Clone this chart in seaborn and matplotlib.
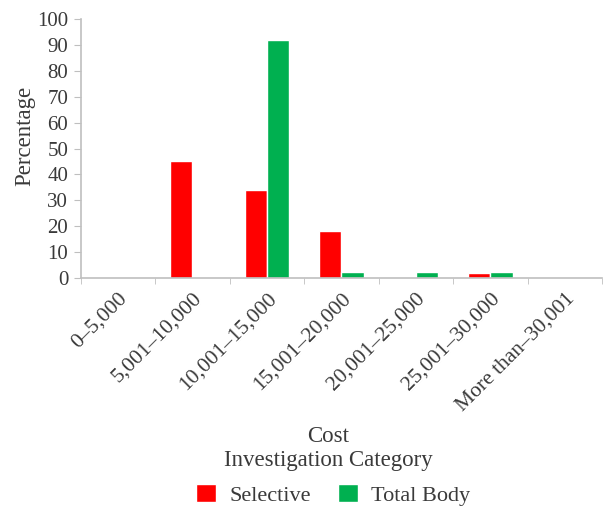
import numpy as np
import pandas as pd
import seaborn as sns
from matplotlib import pyplot as plt
from matplotlib.ticker import FixedLocator

categories = ["0–5,000", "5,001–10,000", "10,001–15,000", "15,001–20,000",
              "20,001–25,000", "25,001–30,000", "More than–30,001"]
selective = [0, 45, 34, 18, 0, 2, 0]
total_body = [0, 0, 92, 2.3, 2.3, 2.3, 0]
series_names = ["Selective", "Total Body"]
y_ticks = list(range(0, 101, 10))

df = pd.DataFrame({
    "category": categories * 2,
    "value": selective + total_body,
    "series": [series_names[0]] * len(categories) + [series_names[1]] * len(categories),
})

sns.set_style("white")
plt.rcParams["font.family"] = ["Liberation Serif", "DejaVu Serif"]
text_col = "#3a3a3a"
axis_col = "#bfbfbf"

fig = plt.figure(figsize=(6.05, 5.07), dpi=100)
ax = fig.add_axes([0.1334, 0.4517, 0.8616, 0.5108])

sns.barplot(data=df, x="category", y="value", hue="series", order=categories,
            hue_order=series_names, palette=["#ff0000", "#00b050"],
            width=0.6, saturation=1, ax=ax)

ax.set_xlim(-0.5, len(categories) - 0.5)
ax.set_ylim(0, 100)
ax.set_yticks(y_ticks)
ax.set_xticks(range(len(categories)))
ax.set_xticklabels(categories, rotation=45, ha="right", rotation_mode="anchor")
ax.xaxis.set_minor_locator(FixedLocator(np.arange(-0.5, len(categories), 1)))
ax.tick_params(axis="x", which="major", length=0, pad=8, labelsize=15.5, labelcolor=text_col)
ax.tick_params(axis="x", which="minor", length=4, color=axis_col, direction="out", bottom=True)
ax.tick_params(axis="y", length=5, color=axis_col, direction="out", left=True,
               labelsize=15, labelcolor=text_col, pad=4)

sns.despine(ax=ax)
for side in ["left", "bottom"]:
    ax.spines[side].set_color(axis_col)
    ax.spines[side].set_linewidth(1.2)

ax.set_xlabel("")
ax.set_ylabel("Percentage", fontsize=16.5, color=text_col)
ax.yaxis.set_label_coords(-0.088, 0.55)

fig.text(0.542, 0.140, "Cost", ha="center", va="center", fontsize=16.5, color=text_col)
fig.text(0.542, 0.091, "Investigation Category", ha="center", va="center",
         fontsize=16.5, color=text_col)

sns.move_legend(ax, "center", bbox_to_anchor=(0.551, 0.024),
                bbox_transform=fig.transFigure, ncol=2, frameon=False, title=None,
                fontsize=16, handlelength=0.9, handleheight=0.9, columnspacing=1.2,
                handletextpad=0.6, labelcolor=text_col, borderpad=0)

fig.savefig("out.png", dpi=100)
